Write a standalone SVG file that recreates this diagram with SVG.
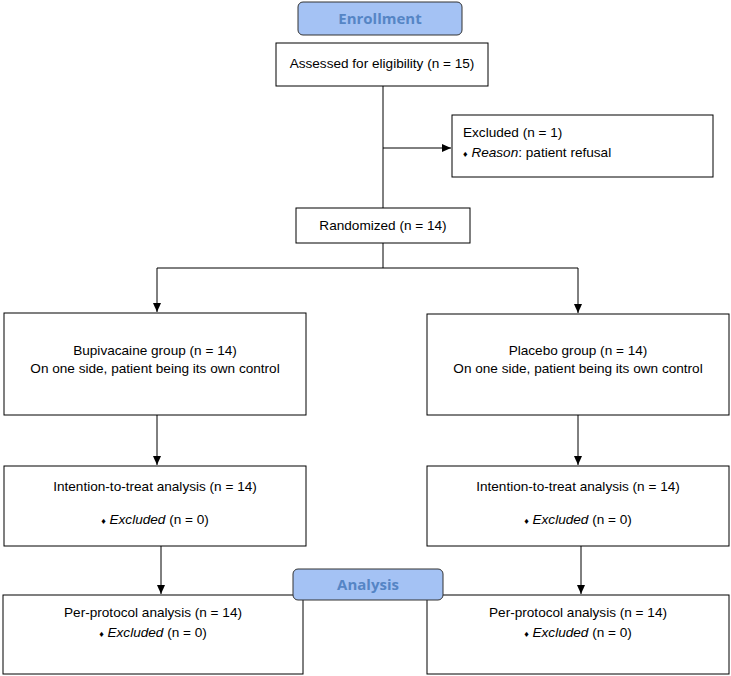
<svg xmlns="http://www.w3.org/2000/svg" width="731" height="676" viewBox="0 0 731 676">
<style>
.box{fill:#fff;stroke:#000;stroke-width:1}
.hdr{fill:#a4c2f4;stroke:#333;stroke-width:1}
.ht{font-family:"Open Sans","Liberation Sans",sans-serif;font-weight:bold;font-size:15px;fill:#5585c5;text-anchor:middle}
.t{font-family:"Liberation Sans",Arial,sans-serif;font-size:13.6px;fill:#000}
.c{text-anchor:middle}
.b{font-size:9px}
.ln{fill:none;stroke:#000;stroke-width:1}
</style>
<defs>
<marker id="ah" markerWidth="10" markerHeight="10" refX="9" refY="5" orient="auto" markerUnits="userSpaceOnUse">
<path d="M0,1 L9,5 L0,9 Z" fill="#000"/>
</marker>
</defs>
<g id="connectors">
<path class="ln" d="M383,86 V208"/>
<path class="ln" d="M383,148 H451" marker-end="url(#ah)"/>
<path class="ln" d="M383,243 V268"/>
<path class="ln" d="M157,268 H578"/>
<path class="ln" d="M157,268 V312" marker-end="url(#ah)"/>
<path class="ln" d="M578,268 V313" marker-end="url(#ah)"/>
<path class="ln" d="M157,415 V465" marker-end="url(#ah)"/>
<path class="ln" d="M578,415 V465" marker-end="url(#ah)"/>
<path class="ln" d="M161,546 V594" marker-end="url(#ah)"/>
<path class="ln" d="M581,546 V594" marker-end="url(#ah)"/>
</g>
<g id="enrollment">
<rect class="hdr" x="298" y="2" width="164" height="33" rx="5"/>
<text class="ht" x="380" y="24">Enrollment</text>
</g>
<g id="assessed">
<rect class="box" x="276" y="43" width="212" height="43"/>
<text class="t c" x="382" y="68">Assessed for eligibility (n = 15)</text>
</g>
<g id="excluded">
<rect class="box" x="452" y="115" width="261" height="62"/>
<text class="t" x="463" y="137">Excluded (n = 1)</text>
<text class="t" x="463" y="157"><tspan class="b">♦</tspan> <tspan font-style="italic">Reason</tspan>: patient refusal</text>
</g>
<g id="randomized">
<rect class="box" x="296" y="208" width="174" height="35"/>
<text class="t c" x="383" y="230">Randomized (n = 14)</text>
</g>
<g id="bupivacaine">
<rect class="box" x="4" y="313" width="302" height="102"/>
<text class="t c" x="155" y="355">Bupivacaine group (n = 14)</text>
<text class="t c" x="155" y="373">On one side, patient being its own control</text>
</g>
<g id="placebo">
<rect class="box" x="427" y="314" width="302" height="101"/>
<text class="t c" x="578" y="355">Placebo group (n = 14)</text>
<text class="t c" x="578" y="373">On one side, patient being its own control</text>
</g>
<g id="itt-left">
<rect class="box" x="4" y="466" width="302" height="80"/>
<text class="t c" x="155" y="491">Intention-to-treat analysis (n = 14)</text>
<text class="t c" x="155" y="524"><tspan class="b">♦</tspan> <tspan font-style="italic">Excluded</tspan> (n = 0)</text>
</g>
<g id="itt-right">
<rect class="box" x="427" y="466" width="302" height="80"/>
<text class="t c" x="578" y="491">Intention-to-treat analysis (n = 14)</text>
<text class="t c" x="578" y="524"><tspan class="b">♦</tspan> <tspan font-style="italic">Excluded</tspan> (n = 0)</text>
</g>
<g id="pp-left">
<rect class="box" x="3" y="595" width="300" height="79"/>
<text class="t c" x="153" y="617">Per-protocol analysis (n = 14)</text>
<text class="t c" x="153" y="637"><tspan class="b">♦</tspan> <tspan font-style="italic">Excluded</tspan> (n = 0)</text>
</g>
<g id="pp-right">
<rect class="box" x="427" y="595" width="302" height="79"/>
<text class="t c" x="578" y="617">Per-protocol analysis (n = 14)</text>
<text class="t c" x="578" y="637"><tspan class="b">♦</tspan> <tspan font-style="italic">Excluded</tspan> (n = 0)</text>
</g>
<g id="analysis">
<rect class="hdr" x="293" y="569" width="150" height="31" rx="5"/>
<text class="ht" x="368" y="590">Analysis</text>
</g>
</svg>
